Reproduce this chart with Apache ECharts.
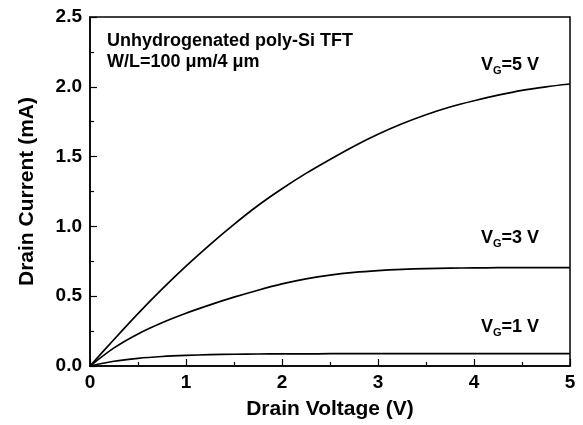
<!DOCTYPE html>
<html>
<head>
<meta charset="utf-8">
<script src="https://cdn.jsdelivr.net/npm/echarts@6/dist/echarts.min.js"></script>
<style>html,body{margin:0;padding:0;background:#fff;}#c{width:583px;height:425px;}</style>
</head>
<body>
<div id="c"></div>
<script>
var voltage = [0, 0.25, 0.5, 0.75, 1, 1.25, 1.5, 1.75, 2, 2.25, 2.5, 2.75, 3, 3.25, 3.5, 3.75, 4, 4.25, 4.5, 4.75, 5];
var vg5 = [0, 0.19, 0.375, 0.55, 0.715, 0.87, 1.015, 1.15, 1.27, 1.38, 1.48, 1.575, 1.66, 1.735, 1.80, 1.855, 1.90, 1.94, 1.975, 2.0, 2.02];
var vg3 = [0, 0.13, 0.23, 0.31, 0.378, 0.438, 0.493, 0.543, 0.588, 0.624, 0.651, 0.670, 0.683, 0.692, 0.698, 0.701, 0.703, 0.704, 0.705, 0.705, 0.705];
var vg1 = [0, 0.034, 0.055, 0.068, 0.076, 0.081, 0.084, 0.086, 0.087, 0.087, 0.088, 0.088, 0.088, 0.088, 0.088, 0.088, 0.088, 0.088, 0.088, 0.088, 0.088];
var xTicks = [0, 1, 2, 3, 4, 5];
var yTicks = [0.0, 0.5, 1.0, 1.5, 2.0, 2.5];

function pairs(ys) { return voltage.map(function (x, i) { return [x, ys[i]]; }); }
var FONT = '"Liberation Sans", Arial, Helvetica, sans-serif';
var chart = echarts.init(document.getElementById('c'), null, {renderer: 'canvas'});

function vgLabel(v, x, y) {
  return {
    type: 'text', left: x, top: y, silent: true,
    style: {
      text: '{v|V}{s|G}{v|=' + v + ' V}',
      rich: {
        v: {fontFamily: FONT, fontWeight: 'bold', fontSize: 18, lineHeight: 22, verticalAlign: 'middle', fill: '#000'},
        s: {fontFamily: FONT, fontWeight: 'bold', fontSize: 11, lineHeight: 22, verticalAlign: 'bottom', fill: '#000'}
      }
    }
  };
}

var lineStyle = {color: '#000', width: 1.7};
chart.setOption({
  animation: false,
  backgroundColor: '#fff',
  grid: {left: 90, right: 13, top: 17, bottom: 59, show: true, borderColor: '#000', borderWidth: 1.5, backgroundColor: 'transparent'},
  xAxis: {
    type: 'value', min: 0, max: 5, interval: 1,
    name: 'Drain Voltage (V)', nameLocation: 'middle', nameGap: 33,
    nameTextStyle: {fontFamily: FONT, fontWeight: 'bold', fontSize: 21, color: '#000'},
    axisLine: {show: true, lineStyle: {color: '#000', width: 1.5}},
    axisTick: {show: true, inside: true, length: 7, lineStyle: {color: '#000', width: 1.2}},
    minorTick: {show: true, splitNumber: 2, length: 4, lineStyle: {color: '#000', width: 1.2}},
    splitLine: {show: false},
    axisLabel: {fontFamily: FONT, fontWeight: 'bold', fontSize: 19, color: '#000', margin: 7,
      formatter: function (v) { return xTicks.indexOf(v) >= 0 ? String(v) : ''; }}
  },
  yAxis: {
    type: 'value', min: 0, max: 2.5, interval: 0.5,
    name: 'Drain Current (mA)', nameLocation: 'middle', nameGap: 52,
    nameTextStyle: {fontFamily: FONT, fontWeight: 'bold', fontSize: 21, color: '#000'},
    axisLine: {show: true, lineStyle: {color: '#000', width: 1.5}},
    axisTick: {show: true, inside: true, length: 7, lineStyle: {color: '#000', width: 1.2}},
    minorTick: {show: true, splitNumber: 2, length: 4, lineStyle: {color: '#000', width: 1.2}},
    splitLine: {show: false},
    axisLabel: {fontFamily: FONT, fontWeight: 'bold', fontSize: 19, color: '#000', margin: 8,
      formatter: function (v) { return yTicks.indexOf(v) >= 0 ? v.toFixed(1) : ''; }}
  },
  series: [
    {type: 'line', data: pairs(vg5), smooth: 0.3, symbol: 'none', lineStyle: lineStyle},
    {type: 'line', data: pairs(vg3), smooth: 0.3, symbol: 'none', lineStyle: lineStyle},
    {type: 'line', data: pairs(vg1), smooth: 0.3, symbol: 'none', lineStyle: lineStyle}
  ],
  graphic: [
    {type: 'text', left: 107, top: 31, silent: true,
      style: {text: 'Unhydrogenated poly-Si TFT\nW/L=100 \u03bcm/4 \u03bcm', fontFamily: FONT, fontWeight: 'bold', fontSize: 18, lineHeight: 21, fill: '#000'}},
    vgLabel(5, 481, 56),
    vgLabel(3, 481, 229),
    vgLabel(1, 481, 318)
  ]
});
</script>
</body>
</html>
